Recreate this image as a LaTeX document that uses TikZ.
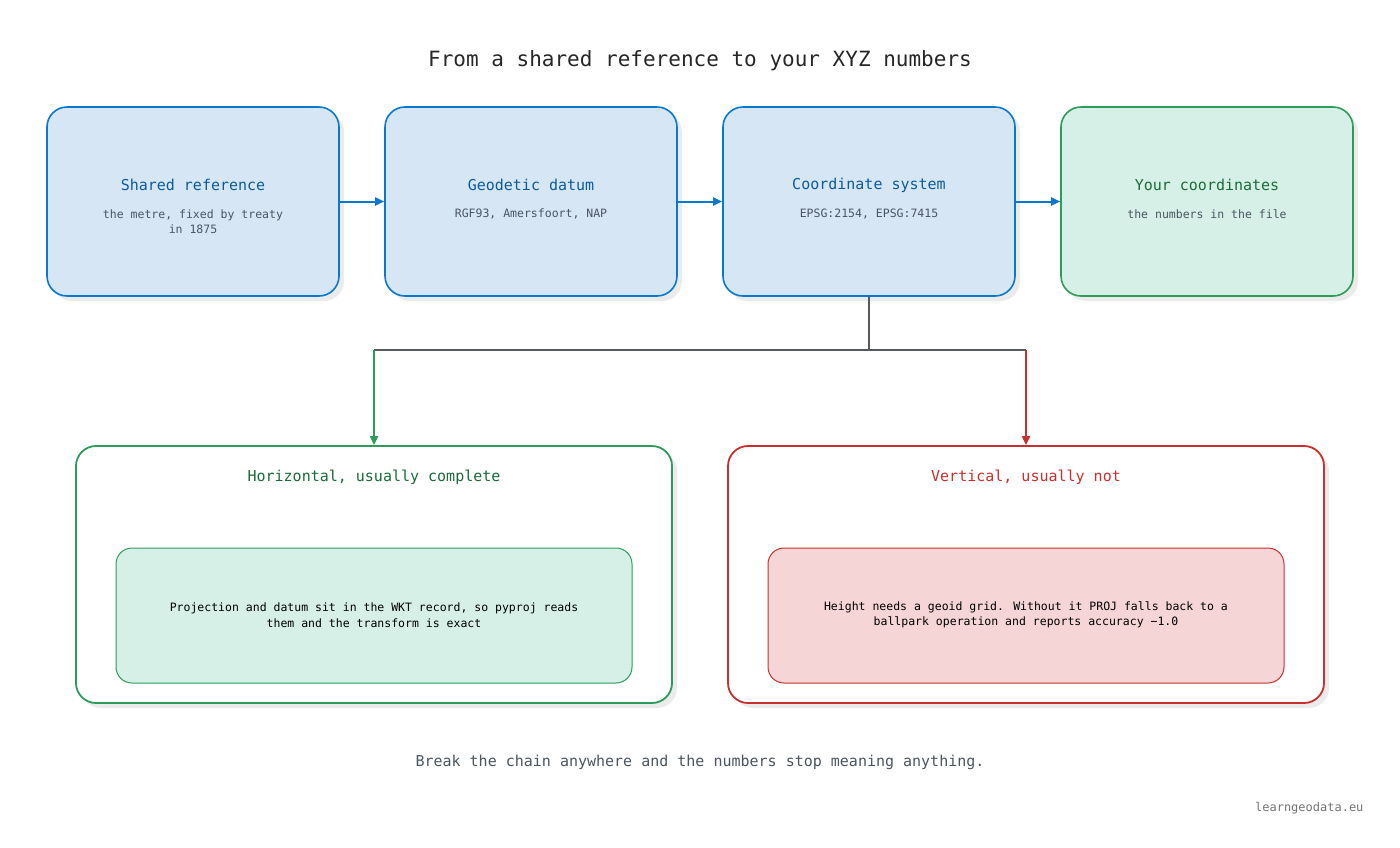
\documentclass[tikz,border=0pt]{standalone}
\usepackage{fontspec}
\setmainfont{DejaVu Sans Mono}
\usetikzlibrary{arrows.meta}
\definecolor{bfill}{HTML}{D6E6F5}\definecolor{bline}{HTML}{0B78D0}\definecolor{btext}{HTML}{0B5A9E}
\definecolor{gfill}{HTML}{D6F0E8}\definecolor{gline}{HTML}{2E9B5A}\definecolor{gtext}{HTML}{1B6B3A}
\definecolor{rfill}{HTML}{F5D5D5}\definecolor{rline}{HTML}{C8302E}\definecolor{rtext}{HTML}{C8302E}
\definecolor{sub}{HTML}{4A5560}\definecolor{conn}{HTML}{555A60}
\tikzset{
 topbox/.style={draw=#1line,fill=#1fill,line width=1.6pt,rounded corners=20pt,minimum width=292pt,minimum height=189pt},
 bigbox/.style={draw=#1line,fill=white,line width=1.8pt,rounded corners=20pt,minimum width=596pt,minimum height=257pt},
 innerbox/.style={draw=#1line,fill=#1fill,line width=1pt,rounded corners=16pt,minimum width=516pt,minimum height=135pt},
 shadow/.style={fill=black!8,rounded corners=20pt},
 ttl/.style={font=\fontsize{15}{18}\selectfont},
 subt/.style={font=\fontsize{11.5}{15}\selectfont,text=sub,align=center},
 arr/.style={line width=2pt,-{Triangle[length=9pt,width=8pt]}},
}
\begin{document}
\begin{tikzpicture}[x=1pt,y=-1pt]
\useasboundingbox (0,0) rectangle (1400,847);
\node[font=\fontsize{21}{24}\selectfont,text=black!85] (title) at (700,61) {From a shared reference to your XYZ numbers};
% shadows
\foreach \cx in {193,531,869,1207}{\fill[shadow] (\cx-146+5,112) rectangle (\cx+146+5,301);}
\fill[shadow] (81,451) rectangle (677,708);
\fill[shadow] (733,451) rectangle (1329,708);
\node[topbox=b] (a) at (193,201.5) {};
\node[topbox=b] (b) at (531,201.5) {};
\node[topbox=b] (c) at (869,201.5) {};
\node[topbox=g] (d) at (1207,201.5) {};
\node[ttl,text=btext] at (193,185) {Shared reference};
\node[subt] at (193,222) {the metre, fixed by treaty\\in 1875};
\node[ttl,text=btext] at (531,185) {Geodetic datum};
\node[subt] at (531,214) {RGF93, Amersfoort, NAP};
\node[ttl,text=btext] at (869,185) {Coordinate system};
\node[subt] at (869,214) {EPSG:2154, EPSG:7415};
\node[ttl,text=gtext] at (1207,185) {Your coordinates};
\node[subt] at (1207,214) {the numbers in the file};
\draw[arr,bline] (a) -- (b);
\draw[arr,bline] (b) -- (c);
\draw[arr,bline] (c) -- (d);
\node[bigbox=g] (h) at (374,574.5) {};
\node[bigbox=r] (v) at (1026,574.5) {};
\node[innerbox=g] (hi) at (374,615.5) {};
\node[innerbox=r] (vi) at (1026,615.5) {};
\node[ttl,text=gtext] at (374,477) {Horizontal, usually complete};
\node[ttl,text=rtext] at (1026,477) {Vertical, usually not};
\node[font=\fontsize{11.5}{15.5}\selectfont,align=center] at (374,615) {Projection and datum sit in the WKT record, so pyproj reads\\them and the transform is exact};
\node[font=\fontsize{11.5}{15.5}\selectfont,align=center] at (1026,615) {Height needs a geoid grid. Without it PROJ falls back to a\\ballpark operation and reports accuracy −1.0};
\coordinate (j) at (869,350);
\draw[conn,line width=2pt] (c.south) -- (j);
\draw[conn,line width=2pt] (374,350) -- (1026,350);
\draw[arr,gline] (374,350) -- (h.north);
\draw[arr,rline] (1026,350) -- (v.north);
\node[font=\fontsize{15}{18}\selectfont,text=sub] (foot) at (700,762) {Break the chain anywhere and the numbers stop meaning anything.};
\node[font=\fontsize{12}{14}\selectfont,text=black!55,anchor=east] (site) at (1367,808) {learngeodata.eu};
\end{tikzpicture}
\end{document}
